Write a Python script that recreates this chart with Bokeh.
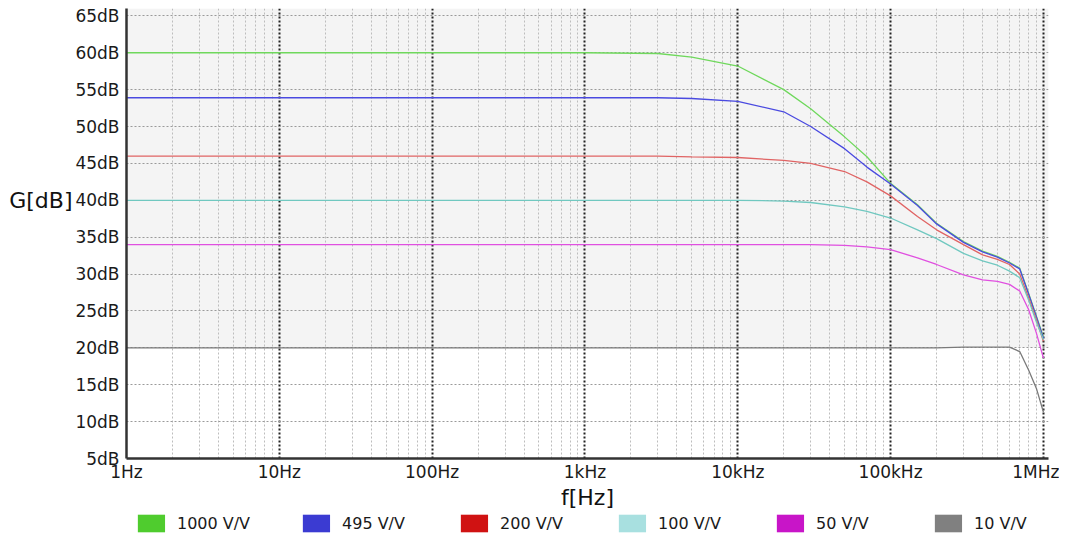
from bokeh.plotting import figure
from bokeh.layouts import column
from bokeh.models import (Range1d, FixedTicker, PrintfTickFormatter, Legend, LegendItem,
                          BoxAnnotation, LinearAxis)
from bokeh.embed import file_html
from bokeh.resources import INLINE

# ---------------- data ----------------
freq = [1, 1000, 3000, 5000, 10000, 20000, 30000, 50000, 70000, 100000, 150000,
        200000, 300000, 400000, 500000, 600000, 700000, 800000, 900000, 1000000]
g1000 = [60.0, 60.0, 59.9, 59.4, 58.2, 55.0, 52.4, 48.6, 45.9, 42.3, 39.4,
         36.9, 34.4, 33.1, 32.4, 31.6, 30.8, 27.4, 24.3, 21.5]
g495 = [53.9, 53.9, 53.9, 53.8, 53.4, 52.0, 50.0, 47.0, 44.5, 42.2, 39.3,
        36.8, 34.3, 33.0, 32.3, 31.5, 30.7, 27.3, 24.2, 21.3]
g200 = [46.0, 46.0, 46.0, 45.9, 45.8, 45.4, 45.0, 43.9, 42.5, 40.6, 37.8,
        36.0, 34.0, 32.6, 32.0, 31.3, 30.0, 26.8, 23.8, 20.9]
g100 = [40.0, 40.0, 40.0, 40.0, 40.0, 39.9, 39.7, 39.1, 38.5, 37.6, 36.0,
        34.8, 32.8, 31.8, 31.2, 30.4, 29.5, 26.5, 23.5, 21.1]
g50 = [34.0, 34.0, 34.0, 34.0, 34.0, 34.0, 34.0, 33.9, 33.7, 33.3, 32.2,
       31.3, 29.9, 29.2, 29.0, 28.6, 27.7, 25.2, 22.0, 18.6]
g10 = [20.0, 20.0, 20.0, 20.0, 20.0, 20.0, 20.0, 20.0, 20.0, 20.0, 20.0,
       20.0, 20.1, 20.1, 20.1, 20.1, 19.5, 17.0, 14.5, 11.3]

series_names = ["1000 V/V", "495 V/V", "200 V/V", "100 V/V", "50 V/V", "10 V/V"]
series_values = [g1000, g495, g200, g100, g50, g10]
line_colors = ["#6fd85c", "#4a4ae0", "#e06464", "#70c8c0", "#e050e0", "#7a7a7a"]
legend_colors = ["#4fcc2e", "#3b3bd2", "#d01212", "#a8e0e0", "#c815c8", "#808080"]

x_ticks = [1, 10, 100, 1000, 10000, 100000, 1000000]
x_tick_labels = ["1Hz", "10Hz", "100Hz", "1kHz", "10kHz", "100kHz", "1MHz"]
x_minor = [k * 10 ** d for d in range(6) for k in range(2, 10)]
y_ticks = [5, 10, 15, 20, 25, 30, 35, 40, 45, 50, 55, 60, 65]
y_title = "G[dB]"
y_title_at = 40

FONT = "DejaVu Sans"
NAN = float("nan")

# ---------------- main figure ----------------
p = figure(width=1059, height=512, x_axis_type="log",
           x_range=Range1d(1, 1.08e6), y_range=Range1d(5, 66),
           output_backend="svg", toolbar_location=None,
           min_border_left=126, min_border_right=11, min_border_top=8,
           min_border_bottom=49)
p.background_fill_color = "white"
p.border_fill_color = "white"
p.outline_line_color = None

# light grey band above 20 dB
p.add_layout(BoxAnnotation(bottom=20, fill_color="#f4f4f4", fill_alpha=1.0,
                           line_color=None, level="image"))

# axes
p.xaxis.ticker = FixedTicker(ticks=x_ticks, minor_ticks=x_minor)
p.xaxis.major_label_overrides = {t: l for t, l in zip(x_ticks, x_tick_labels)}
p.yaxis.ticker = FixedTicker(ticks=y_ticks)
p.yaxis.formatter = PrintfTickFormatter(format="%ddB")

for ax in (p.xaxis[0], p.yaxis[0]):
    ax.major_tick_line_color = None
    ax.minor_tick_line_color = None
    ax.major_tick_out = 0
    ax.major_tick_in = 0
    ax.minor_tick_out = 0
    ax.minor_tick_in = 0
    ax.axis_line_color = "#333333"
    ax.axis_line_width = 2.5
    ax.major_label_text_font = FONT
    ax.major_label_text_font_size = "17px"
    ax.major_label_text_color = "#1a1a1a"

p.xaxis.major_label_standoff = 3
p.yaxis.major_label_standoff = 7
p.xaxis.axis_label = "f[Hz]"
p.xaxis.axis_label_text_font = FONT
p.xaxis.axis_label_text_font_size = "22px"
p.xaxis.axis_label_text_font_style = "normal"
p.xaxis.axis_label_text_color = "#111111"
p.xaxis.axis_label_standoff = 0

# y title as a single-tick outer axis, aligned with 40 dB
title_axis = LinearAxis(ticker=FixedTicker(ticks=[y_title_at]),
                        major_label_overrides={y_title_at: y_title},
                        axis_line_color=None, major_tick_line_color=None,
                        minor_tick_line_color=None, major_tick_out=0, major_tick_in=0,
                        minor_tick_out=0, minor_tick_in=0, major_label_standoff=0,
                        major_label_text_font=FONT, major_label_text_font_size="22px",
                        major_label_text_color="#111111")
p.add_layout(title_axis, "left")

# grids
p.xgrid.grid_line_color = "#222222"
p.xgrid.grid_line_width = 2
p.xgrid.grid_line_dash = "2 2"
p.xgrid.minor_grid_line_color = "#bdbdbd"
p.xgrid.minor_grid_line_width = 1
p.xgrid.minor_grid_line_dash = "2 2"
p.ygrid.grid_line_color = "#9a9a9a"
p.ygrid.grid_line_width = 1
p.ygrid.grid_line_dash = "2 2"

# curves
for vals, col in zip(series_values, line_colors):
    p.line(freq, vals, line_color=col, line_width=1.3)

# ---------------- legend strip ----------------
lf = figure(width=1059, height=22, x_range=Range1d(0, 1), y_range=Range1d(0, 1),
            output_backend="svg", toolbar_location=None,
            x_axis_location=None, y_axis_location=None,
            min_border_left=126, min_border_right=11, min_border_top=0,
            min_border_bottom=0)
lf.grid.visible = False
lf.outline_line_color = None
lf.background_fill_color = "white"
lf.border_fill_color = "white"

items = []
for name, col in zip(series_names, legend_colors):
    r = lf.quad(left=[NAN], right=[NAN], top=[NAN], bottom=[NAN],
                fill_color=col, line_color=None)
    items.append(LegendItem(label=name, renderers=[r]))
legend = Legend(items=items, orientation="horizontal", location="center",
                glyph_width=34, glyph_height=22, label_height=22,
                label_standoff=9, label_width=66,
                spacing=49, padding=0, margin=0, border_line_color=None,
                background_fill_alpha=0, label_text_font=FONT,
                label_text_font_size="16px", label_text_color="#1a1a1a")
lf.add_layout(legend, "center")

open("out.html", "w").write(file_html(column(p, lf, spacing=0), INLINE))
